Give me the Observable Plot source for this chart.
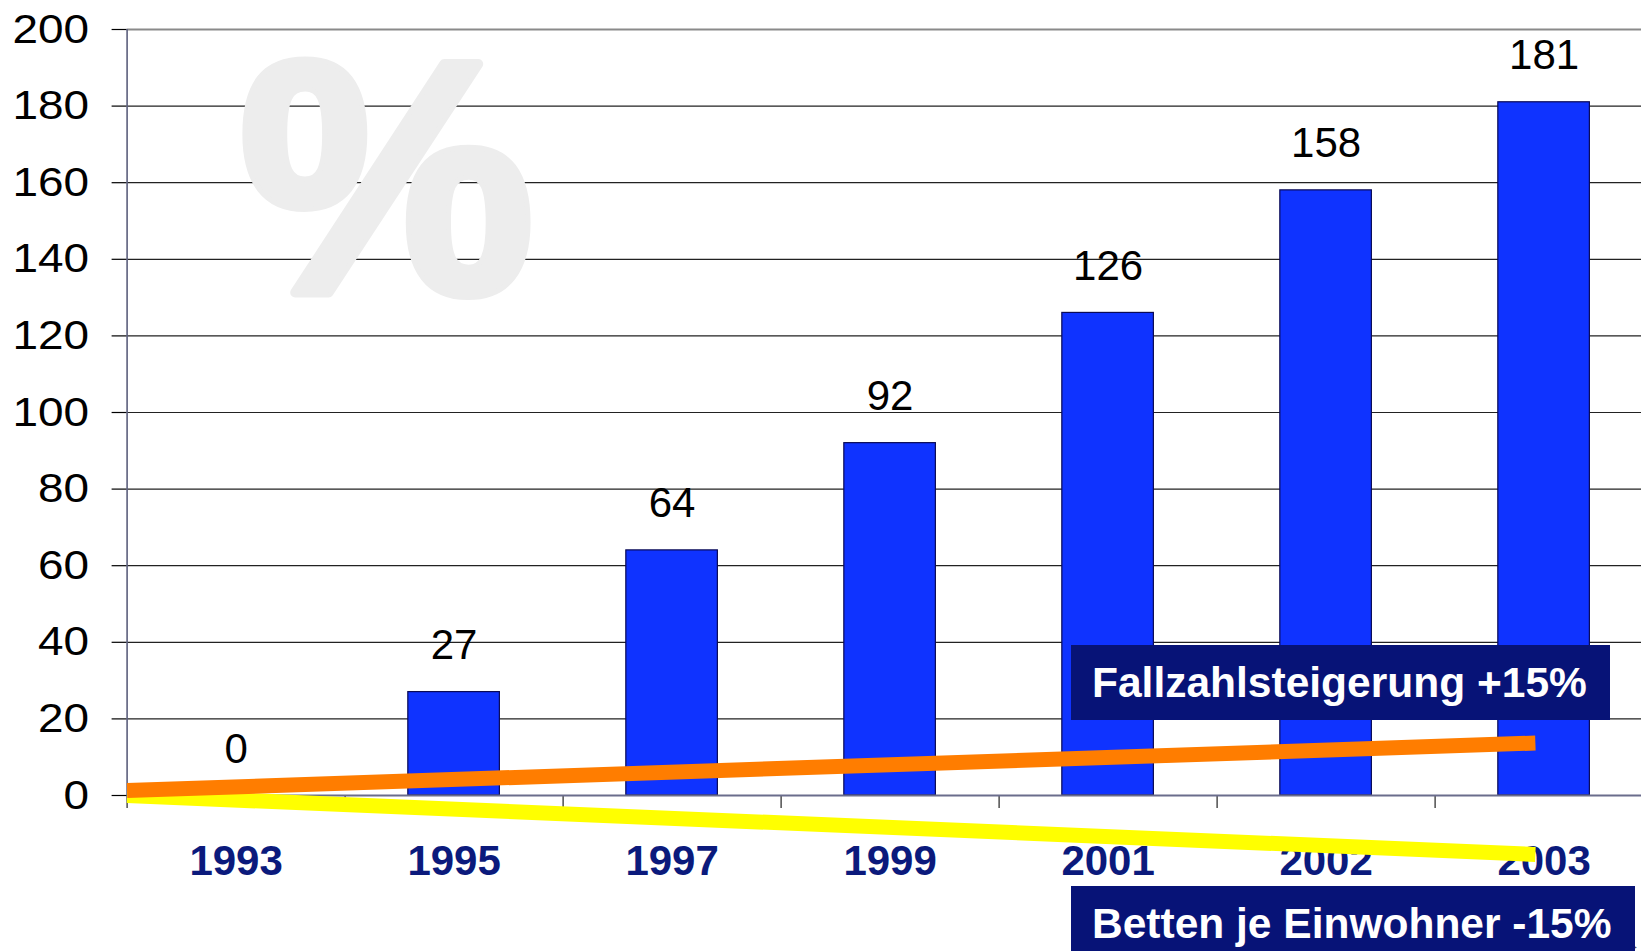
<!DOCTYPE html>
<html>
<head>
<meta charset="utf-8">
<script src="https://cdn.jsdelivr.net/npm/d3@7"></script>
<script src="https://cdn.jsdelivr.net/npm/@observablehq/plot@0.6"></script>
<style>
html, body { margin: 0; padding: 0; background: #fff; overflow: hidden; width: 1641px; height: 951px; }
#wrap { position: relative; width: 1641px; height: 951px; font-family: "Liberation Sans", Arial, sans-serif; }
#wrap svg { position: absolute; left: 0; top: 0; }
.note { position: absolute; background: #071377; color: #fff; font-weight: bold; font-size: 42.5px;
        height: 74px; line-height: 76px; box-sizing: border-box; padding-left: 21px; white-space: nowrap; }
</style>
</head>
<body>
<div id="wrap"></div>
<script>
// ---- data ----
const years = ["1993", "1995", "1997", "1999", "2001", "2002", "2003"];
const values = [0, 27, 64, 92, 126, 158, 181];
const yTicks = [0, 20, 40, 60, 80, 100, 120, 140, 160, 180, 200];
// trend lines (x in category units from the axis, y in %)
const trendX = [0, 6.46];
const fallzahl = [1.3, 13.7];   // Fallzahlsteigerung +15%
const betten = [0, -15.4];      // Betten je Einwohner -15%
const noteFall = "Fallzahlsteigerung +15%";
const noteBetten = "Betten je Einwohner -15%";

const bars = years.map((yr, i) => ({i, year: yr, value: values[i]}));
const fallLine = trendX.map((x, k) => ({x, y: fallzahl[k]}));
const bettLine = trendX.map((x, k) => ({x, y: betten[k]}));

const font = "Liberation Sans, Arial, sans-serif";
const navy = "#0b1a7c";

const chart = Plot.plot({
  width: 1641,
  height: 951,
  marginLeft: 126.6,
  marginRight: 0,
  marginTop: 29,
  marginBottom: 156,
  style: {fontFamily: font, background: "transparent", color: "#000", overflow: "visible"},
  x: {type: "linear", domain: [0, 7], range: [126.6, 1652.6]},
  y: {domain: [0, 200]},
  marks: [
    // grid lines
    Plot.ruleY(yTicks.filter(d => d > 0 && d < 200), {stroke: "#222", strokeWidth: 1.2}),
    Plot.ruleY([200], {stroke: "#8a8a8a", strokeWidth: 2}),
    // watermark
    Plot.text(["%"], {frameAnchor: "top-left", text: d => d, fontSize: 332, fontWeight: "bold",
      fill: "#ededed", stroke: "#ededed", strokeWidth: 10, strokeLinejoin: "round",
      textAnchor: "start", lineAnchor: "bottom", dx: 112, dy: 263}),
    // bars
    Plot.rectY(bars, {x1: d => d.i + 0.29, x2: d => d.i + 0.71, y1: 0, y2: "value",
      fill: "#0f33ff", stroke: "#0a0a55", strokeWidth: 1.2}),
    // y axis
    Plot.axisY({ticks: yTicks, tickSize: 15, tickPadding: 23, fontSize: 41, color: "#000",
      tickFormat: d => String(d), strokeWidth: 1.2}),
    Plot.ruleX([0], {stroke: "#5c5f7c", strokeWidth: 1.6}),
    // x axis ticks at band boundaries
    Plot.axisX({ticks: d3.range(0, 8), tickSize: 13, tickFormat: () => "", color: "#222", strokeWidth: 1.2}),
    Plot.ruleY([0], {stroke: "#6a6d8c", strokeWidth: 2}),
    // x labels
    Plot.axisX({ticks: years.map((_, i) => i + 0.5), tickSize: 0, tickPadding: 50,
      tickFormat: d => years[Math.floor(d)], fontSize: 42, fontWeight: "bold", color: navy}),
    // value labels
    Plot.text(bars, {x: d => d.i + 0.5, y: "value", text: d => String(d.value), dy: -33,
      lineAnchor: "bottom", fontSize: 42, fill: "#000", ariaLabel: "vlab"}),
    // trend lines
    Plot.line(bettLine, {x: "x", y: "y", stroke: "#ffff00", strokeWidth: 15, strokeLinecap: "butt"}),
    Plot.line(fallLine, {x: "x", y: "y", stroke: "#ff7d00", strokeWidth: 15, strokeLinecap: "butt"})
  ]
});

// widen the regular-weight numerals slightly, as in the original
function stretch(root, s) {
  root.querySelectorAll("text").forEach(t => {
    const tr = t.getAttribute("transform");
    if (tr) t.setAttribute("transform", tr + ` scale(${s},1)`);
    else {
      const x = +t.getAttribute("x") || 0, y = +t.getAttribute("y") || 0;
      t.setAttribute("transform", `translate(${x},${y}) scale(${s},1) translate(${-x},${-y})`);
    }
  });
}
chart.querySelectorAll('[aria-label="y-axis tick label"]').forEach(g => stretch(g, 1.12));
chart.querySelectorAll('[aria-label="vlab"]').forEach(g => stretch(g, 1.08));

const wrap = document.getElementById("wrap");
wrap.appendChild(chart);

const n1 = document.createElement("div");
n1.className = "note";
n1.textContent = noteFall;
Object.assign(n1.style, {left: "1071px", top: "645px", width: "539px", height: "75px"});
wrap.appendChild(n1);

const n2 = document.createElement("div");
n2.className = "note";
n2.textContent = noteBetten;
Object.assign(n2.style, {left: "1071px", top: "886px", width: "564px"});
wrap.appendChild(n2);
</script>
</body>
</html>
